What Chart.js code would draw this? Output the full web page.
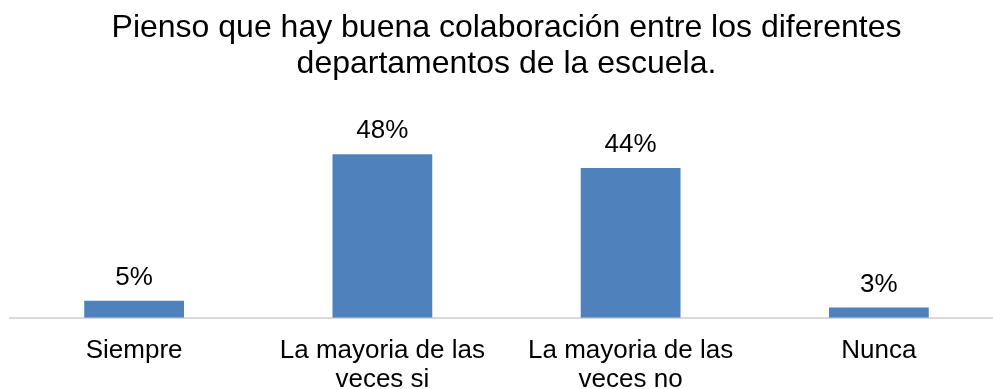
<!DOCTYPE html>
<html>
<head>
<meta charset="utf-8">
<script src="https://cdn.jsdelivr.net/npm/chart.js@4.4.1/dist/chart.umd.min.js"></script>
<style>
    html, body { margin: 0; padding: 0; background: #fff; overflow: hidden; }
    #wrap { position: absolute; left: 0; top: 0; width: 1004px; height: 413px; }
</style>
</head>
<body>
<div id="wrap"><canvas id="chart"></canvas></div>
<script>
// 데이터
const categories = [
    'Siempre',
    ['La mayoria de las', 'veces si'],
    ['La mayoria de las', 'veces no'],
    'Nunca'
];
const percentages = [5, 48, 44, 3];
const chartTitle = [
    'Pienso que hay buena colaboración entre los diferentes',
    'departamentos de la escuela.'
];

const FONT = "'Liberation Sans', Arial, sans-serif";

// 막대 위 값 표시 플러그인
const valueLabels = {
    id: 'valueLabels',
    afterDatasetsDraw(chart) {
        const ctx = chart.ctx;
        const meta = chart.getDatasetMeta(0);
        ctx.save();
        ctx.font = '26px ' + FONT;
        ctx.fillStyle = '#000';
        ctx.textAlign = 'center';
        ctx.textBaseline = 'alphabetic';
        meta.data.forEach((bar, i) => {
            ctx.fillText(percentages[i] + '%', bar.x, bar.y - 16);
        });
        ctx.restore();
    }
};

new Chart(document.getElementById('chart'), {
    type: 'bar',
    data: {
        labels: categories,
        datasets: [{
            data: percentages,
            backgroundColor: '#4F81BD',
            borderWidth: 0,
            categoryPercentage: 1,
            barPercentage: 0.402
        }]
    },
    options: {
        responsive: true,
        maintainAspectRatio: false,
        animation: false,
        layout: { padding: { left: 10, right: 1, top: 0, bottom: 0 } },
        plugins: {
            legend: { display: false },
            tooltip: { enabled: false },
            title: {
                display: true,
                text: chartTitle,
                color: '#000',
                font: { family: FONT, size: 32, weight: 'normal', lineHeight: 1.1 },
                padding: { top: 11, bottom: 32 }
            }
        },
        scales: {
            x: {
                grid: { display: false, drawTicks: false },
                border: { display: true, color: '#D9D9D9', width: 2 },
                ticks: {
                    color: '#000',
                    padding: 19,
                    maxRotation: 0,
                    autoSkip: false,
                    font: { family: FONT, size: 26, lineHeight: 1.1 }
                }
            },
            y: {
                display: false,
                min: 0,
                max: 60
            }
        }
    },
    plugins: [valueLabels]
});
</script>
</body>
</html>
